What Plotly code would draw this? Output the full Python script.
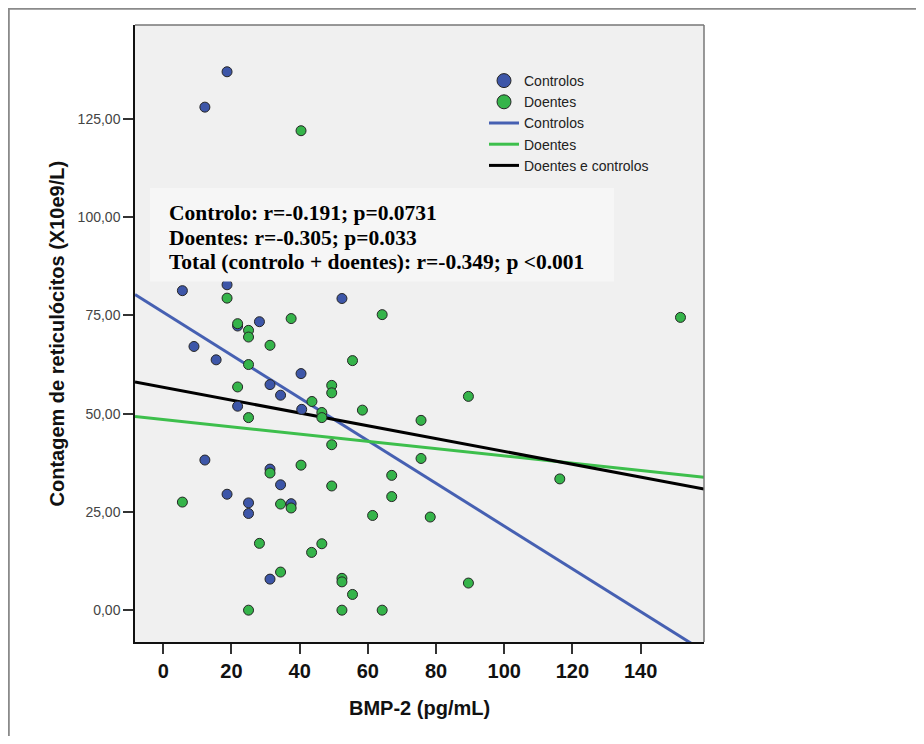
import plotly.graph_objects as go

# ---------------- data ----------------
controlos_x = [18.7, 12.2, 5.6, 18.7, 52.4, 28.2, 21.8, 9.0, 15.5, 40.4, 31.3,
               34.4, 21.8, 40.6, 12.2, 31.3, 34.4, 18.7, 25.0, 37.5, 25.0, 31.3]
controlos_y = [137.0, 128.0, 81.3, 82.8, 79.3, 73.4, 72.3, 67.1, 63.7, 60.2, 57.4,
               54.7, 51.9, 51.1, 38.2, 35.9, 31.9, 29.5, 27.3, 27.1, 24.6, 7.9]

doentes_x = [40.4, 18.7, 64.2, 37.5, 151.7, 21.8, 25.0, 25.0, 31.3, 55.5, 25.0,
             49.4, 49.4, 21.8, 43.6, 89.5, 58.4, 46.5, 46.5, 25.0, 75.6, 49.4,
             40.4, 75.6, 31.3, 67.0, 116.3, 49.4, 67.0, 5.6, 34.4, 37.5, 61.4,
             78.3, 28.2, 46.5, 43.5, 34.4, 52.4, 52.4, 89.5, 55.5, 25.0, 52.4, 64.2]
doentes_y = [122.0, 79.4, 75.2, 74.2, 74.5, 72.9, 71.2, 69.5, 67.4, 63.5, 62.5,
             57.2, 55.3, 56.8, 53.1, 54.4, 50.9, 50.3, 49.0, 49.0, 48.3, 42.1,
             36.9, 38.6, 34.9, 34.3, 33.4, 31.6, 28.9, 27.5, 27.0, 26.0, 24.1,
             23.7, 17.0, 16.9, 14.7, 9.7, 8.1, 7.2, 6.9, 4.0, 0.0, 0.0, 0.0]

# fitted lines (intercept, slope)
fit_labels = ["Controlos", "Doentes", "Doentes e controlos"]
fit_intercepts = [75.8, 48.5, 56.7]
fit_slopes = [-0.544, -0.0924, -0.163]

x_ticks = [0, 20, 40, 60, 80, 100, 120, 140]
y_ticks = [0, 25, 50, 75, 100, 125]
y_tick_text = ["0,00", "25,00", "50,00", "75,00", "100,00", "125,00"]

stats_lines = [
    "Controlo: r=-0.191; p=0.0731",
    "Doentes: r=-0.305; p=0.033",
    "Total (controlo + doentes): r=-0.349; p <0.001",
]

# ---------------- styling ----------------
BLUE = "#3d56a8"
GREEN = "#35b44a"
LINE_COLORS = ["#4660b2", "#3dbf4c", "#000000"]
X_RANGE = [-8.3, 158.6]
Y_RANGE = [-8.1, 148.9]

OFF = 8  # page body margin
W, H = 924 - 2 * OFF, 744 - 2 * OFF
# plot area in page pixels: left 135, right 704, top 25, bottom 642
L = 135 - OFF
T = 25 - OFF
R = W - (704 - OFF)
B = H - (642 - OFF)
PW, PH = W - L - R, H - T - B


def px(x):
    return (x - OFF - L) / PW


def py(y):
    return (H - B - (y - OFF)) / PH


fig = go.Figure()

# regression lines
for lab, a, b, col in zip(fit_labels, fit_intercepts, fit_slopes, LINE_COLORS):
    xs = [X_RANGE[0], X_RANGE[1]]
    ys = [a + b * v for v in xs]
    fig.add_trace(go.Scatter(x=xs, y=ys, mode="lines", showlegend=False,
                             line=dict(color=col, width=3), hoverinfo="skip"))

# points
mline = dict(color="#262626", width=1)
fig.add_trace(go.Scatter(x=controlos_x, y=controlos_y, mode="markers", showlegend=False,
                         marker=dict(color=BLUE, size=10, line=mline), cliponaxis=True))
fig.add_trace(go.Scatter(x=doentes_x, y=doentes_y, mode="markers", showlegend=False,
                         marker=dict(color=GREEN, size=10, line=mline), cliponaxis=True))

# legend entries
fig.add_trace(go.Scatter(x=[None], y=[None], mode="markers", name="Controlos",
                         marker=dict(color=BLUE, size=14, line=mline)))
fig.add_trace(go.Scatter(x=[None], y=[None], mode="markers", name="Doentes",
                         marker=dict(color=GREEN, size=14, line=mline)))
for lab, col in zip(fit_labels, LINE_COLORS):
    fig.add_trace(go.Scatter(x=[None], y=[None], mode="lines", name=lab,
                             line=dict(color=col, width=3)))

shapes = [
    # outer frame
    dict(type="rect", xref="paper", yref="paper", x0=px(8.8), x1=px(1000),
         y0=py(900), y1=py(8.8), line=dict(color="#8a8a8a", width=2),
         fillcolor="rgba(0,0,0,0)", layer="above"),
    # stats box
    dict(type="rect", xref="paper", yref="paper", x0=px(150), x1=px(614),
         y0=py(281.5), y1=py(188), line=dict(width=0), fillcolor="#f6f6f6",
         layer="above"),
    # top & right plot border (grey)
    dict(type="line", xref="paper", yref="paper", x0=0, x1=1, y0=1, y1=1,
         line=dict(color="#777777", width=1.5), layer="above"),
    dict(type="line", xref="paper", yref="paper", x0=1, x1=1, y0=0, y1=1,
         line=dict(color="#777777", width=1.5), layer="above"),
]

annotations = []
for txt, ycen in zip(stats_lines, [212.7, 237.5, 261.5]):
    annotations.append(dict(
        text="<b>" + txt + "</b>", xref="paper", yref="paper", x=px(167), y=py(ycen),
        xanchor="left", yanchor="middle", showarrow=False,
        font=dict(family="Liberation Serif, Times New Roman, serif", size=21.5, color="black")))

annotations.append(dict(
    text="<b>BMP-2 (pg/mL)</b>", xref="paper", yref="paper", x=0.5, y=py(708),
    xanchor="center", yanchor="middle", showarrow=False,
    font=dict(family="Liberation Sans, Arial, sans-serif", size=20, color="#111")))
annotations.append(dict(
    text="<b>Contagem de reticulócitos (X10e9/L)</b>", xref="paper", yref="paper",
    x=px(56), y=0.5, xanchor="center", yanchor="middle", textangle=-90, showarrow=False,
    font=dict(family="Liberation Sans, Arial, sans-serif", size=20, color="#111")))

fig.update_layout(
    width=W, height=H,
    margin=dict(l=L, r=R, t=T, b=B, pad=0),
    paper_bgcolor="white", plot_bgcolor="#f0f0f0",
    font=dict(family="Liberation Sans, Arial, sans-serif", color="#222"),
    shapes=shapes, annotations=annotations,
    legend=dict(x=px(484), y=py(65), xanchor="left", yanchor="top",
                bgcolor="rgba(0,0,0,0)", borderwidth=0,
                font=dict(size=14, color="#222"), tracegroupgap=0,
                itemwidth=30),
    xaxis=dict(range=X_RANGE, tickmode="array", tickvals=x_ticks,
               ticktext=["<b>%d</b>" % v for v in x_ticks],
               ticks="outside", ticklen=10, tickwidth=1.5, tickcolor="#333",
               showline=True, linecolor="#111", linewidth=1.5,
               showgrid=False, zeroline=False,
               tickfont=dict(size=20, color="#111")),
    yaxis=dict(range=Y_RANGE, tickmode="array", tickvals=y_ticks, ticktext=y_tick_text,
               ticks="outside", ticklen=10, tickwidth=1.5, tickcolor="#333",
               showline=True, linecolor="#111", linewidth=1.5,
               showgrid=False, zeroline=False,
               tickfont=dict(size=14, color="#444")),
)

fig.write_html("out.html")
